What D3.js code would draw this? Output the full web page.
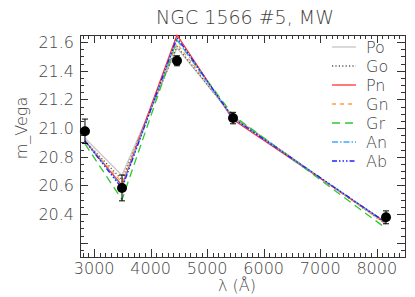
<!DOCTYPE html>
<html><head><meta charset="utf-8">
<script src="https://cdn.jsdelivr.net/npm/d3@7"></script>
<style>
body{margin:0;background:#fff;}
text{font-family:"DejaVu Sans",sans-serif;font-weight:200;fill:#444;}
</style></head><body>
<svg id="c" width="415" height="297"></svg>
<script>
const title = "NGC 1566 #5, MW";
const wavelengths = [2838, 3493, 4466, 5457, 8164];
const obsMag = [20.978, 20.582, 21.470, 21.070, 20.377];
const obsErr = [0.085, 0.090, 0.035, 0.040, 0.045];
const modelNames = ["Po", "Go", "Pn", "Gn", "Gr", "An", "Ab"];
const modelPo = [20.93, 20.67, 21.56, 21.08, 20.33];
const modelGo = [20.91, 20.64, 21.57, 21.08, 20.33];
const modelPn = [20.91, 20.60, 21.65, 21.06, 20.34];
const modelGn = [20.91, 20.62, 21.59, 21.08, 20.33];
const modelGr = [20.89, 20.50, 21.615, 21.09, 20.30];
const modelAn = [20.91, 20.59, 21.62, 21.07, 20.34];
const modelAb = [20.91, 20.58, 21.632, 21.07, 20.34];
const modelValues = [modelPo, modelGo, modelPn, modelGn, modelGr, modelAn, modelAb];
const modelColors = ["#c4c4c4", "#555555", "#ff3030", "#ffa040", "#30c830", "#40a8ff", "#2020ff"];
const modelDash = [null, "1.2,2.2", null, "4,4", "8,5", "6,2,1.5,2", "5,2,1.5,2,1.5,2,1.5,2"];
const xTicks = [3000, 4000, 5000, 6000, 7000, 8000];
const yTicks = [20.4, 20.6, 20.8, 21.0, 21.2, 21.4, 21.6];
const xDomain = [2750, 8500];
const yDomain = [20.1, 21.65];

const svg = d3.select("#c");
const L = 80, R = 405, T = 35, B = 257;
const x = d3.scaleLinear().domain(xDomain).range([L, R]);
const y = d3.scaleLinear().domain(yDomain).range([B, T]);

svg.append("defs").append("clipPath").attr("id","clp")
  .append("rect").attr("x",L).attr("y",T-0.5).attr("width",R-L).attr("height",B-T+1);

// axes
const minorX = d3.range(2800, 8501, 100);
const minorY = d3.range(20.15, 21.651, 0.05);
const ax = svg.append("g").attr("stroke","#333").attr("stroke-width",1).attr("fill","none");
ax.append("rect").attr("x",L+0.5).attr("y",T+0.5).attr("width",R-L).attr("height",B-T);
minorX.forEach(v=>{
  const major = Math.abs(v/1000 - Math.round(v/1000))<1e-6;
  const len = major?8:4;
  const px = Math.round(x(v))+0.5;
  ax.append("line").attr("x1",px).attr("x2",px).attr("y1",B).attr("y2",B-len);
  ax.append("line").attr("x1",px).attr("x2",px).attr("y1",T).attr("y2",T+len);
});
minorY.forEach(v=>{
  const major = Math.abs(v*5 - Math.round(v*5))<1e-6;
  const len = major?8:4;
  const py = Math.round(y(v))+0.5;
  ax.append("line").attr("x1",L).attr("x2",L+len).attr("y1",py).attr("y2",py);
  ax.append("line").attr("x1",R).attr("x2",R-len).attr("y1",py).attr("y2",py);
});

svg.append("g").selectAll("text").data(xTicks).join("text")
  .attr("x",d=>x(d)).attr("y",B+17).attr("text-anchor","middle")
  .attr("font-size",16).text(d=>d);
svg.append("g").selectAll("text").data(yTicks).join("text")
  .attr("x",L-6).attr("y",d=>y(d)+6).attr("text-anchor","end")
  .attr("font-size",16).text(d=>d.toFixed(1));

svg.append("text").attr("x",245).attr("y",24).attr("text-anchor","middle")
  .attr("font-size",19).text(title);
svg.append("text").attr("transform",`translate(27,128) rotate(-90)`)
  .attr("text-anchor","middle").attr("font-size",16).text("m_Vega");
svg.append("text").attr("x",237).attr("y",B+34).attr("text-anchor","middle")
  .attr("font-size",16).text("λ (Å)");

// model lines
const line = d3.line().x((d,i)=>x(wavelengths[i])).y(d=>y(d));
const g = svg.append("g").attr("clip-path","url(#clp)");
modelValues.forEach((vals,k)=>{
  g.append("path").attr("d",line(vals)).attr("fill","none")
   .attr("stroke",modelColors[k]).attr("stroke-width",1.3)
   .attr("stroke-dasharray",modelDash[k]);
});

// observations
const obs = svg.append("g");
wavelengths.forEach((w,i)=>{
  const px = x(w);
  obs.append("line").attr("x1",px).attr("x2",px).attr("y1",y(obsMag[i]-obsErr[i])).attr("y2",y(obsMag[i]+obsErr[i])).attr("stroke","#000");
  [obsMag[i]-obsErr[i], obsMag[i]+obsErr[i]].forEach(v=>{
    obs.append("line").attr("x1",px-3).attr("x2",px+3).attr("y1",y(v)).attr("y2",y(v)).attr("stroke","#000");
  });
  obs.append("circle").attr("cx",px).attr("cy",y(obsMag[i])).attr("r",5).attr("fill","#000");
});

// legend
const lg = svg.append("g");
modelNames.forEach((n,k)=>{
  const ly = 47 + k*19;
  lg.append("line").attr("x1",332).attr("x2",356).attr("y1",ly).attr("y2",ly)
    .attr("stroke",modelColors[k]).attr("stroke-width",1.3).attr("stroke-dasharray",modelDash[k]);
  lg.append("text").attr("x",366).attr("y",ly+6).attr("font-size",16).text(n);
});
</script></body></html>
